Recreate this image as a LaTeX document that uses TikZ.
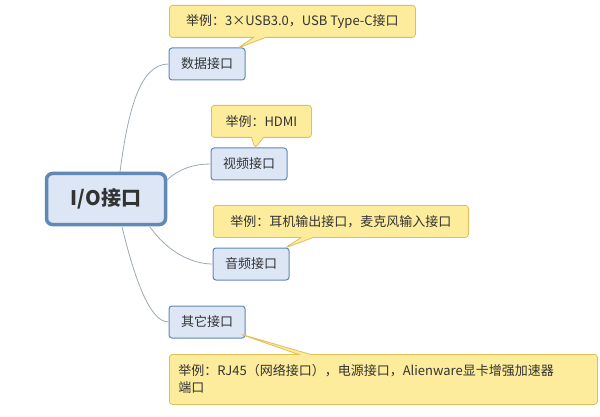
\documentclass[tikz,border=0pt]{standalone}
\usepackage{fontspec}
\setmainfont{Noto Sans CJK SC}
\usetikzlibrary{shapes.callouts}
\definecolor{boxfill}{HTML}{DCE6F4}
\definecolor{boxline}{HTML}{6189B5}
\definecolor{callfill}{HTML}{FCEC9C}
\definecolor{callline}{HTML}{E3BD55}
\definecolor{conn}{HTML}{9AAAB8}
\tikzset{
 topic/.style={draw=boxline,fill=boxfill,rounded corners=3pt,line width=1pt,minimum width=76pt,minimum height=32pt,font=\fontsize{13}{16}\selectfont,text=black!80},
 central/.style={draw=boxline,fill=boxfill,rounded corners=6pt,line width=3.5pt,minimum width=119pt,minimum height=51pt,font=\fontsize{20}{24}\selectfont\bfseries,text=black!80},
 note/.style={rectangle callout,draw=callline,fill=callfill,rounded corners=3pt,line width=0.8pt,minimum height=32pt,font=\fontsize{13}{17}\selectfont,text=black!80,anchor=north west,align=left,inner xsep=9pt,callout pointer width=12pt},
 conline/.style={draw=conn,line width=0.8pt}
}
\begin{document}
\begin{tikzpicture}[x=1pt,y=-1pt]
\useasboundingbox[fill=white] (0,0) rectangle (600,417);
\node[central] (io) at (106,199) {I/O接口};
\node[topic] (d) at (207,64) {数据接口};
\node[topic] (v) at (249,164) {视频接口};
\node[topic] (a) at (251,264) {音频接口};
\node[topic] (o) at (207,322) {其它接口};
\coordinate (p1) at (238,48);
\coordinate (p2) at (255,148);
\coordinate (p3) at (285,248);
\coordinate (p4) at (240,334);
\node[note,minimum width=246pt,callout absolute pointer={(p1)}] (c1) at (169,5) {举例：3×USB3.0，USB Type-C接口};
\node[note,minimum width=100pt,callout absolute pointer={(p2)}] (c2) at (211,105) {举例：HDMI};
\node[note,minimum width=255pt,callout absolute pointer={(p3)}] (c3) at (213,205) {举例：耳机输出接口，麦克风输入接口};
\node[note,minimum width=428pt,minimum height=50pt,callout absolute pointer={(p4)},text width=410pt,inner ysep=3pt] (c4) at (169,354) {举例：RJ45（网络接口），电源接口，Alienware显卡增强加速器\\端口};
\draw[conline] (120,172) .. controls (128,110) and (140,64) .. (d.west);
\draw[conline] (167,180) .. controls (180,168) and (195,164) .. (v.west);
\draw[conline] (150,227) .. controls (170,255) and (195,264) .. (a.west);
\draw[conline] (122,227) .. controls (135,280) and (150,322) .. (o.west);
\end{tikzpicture}
\end{document}
